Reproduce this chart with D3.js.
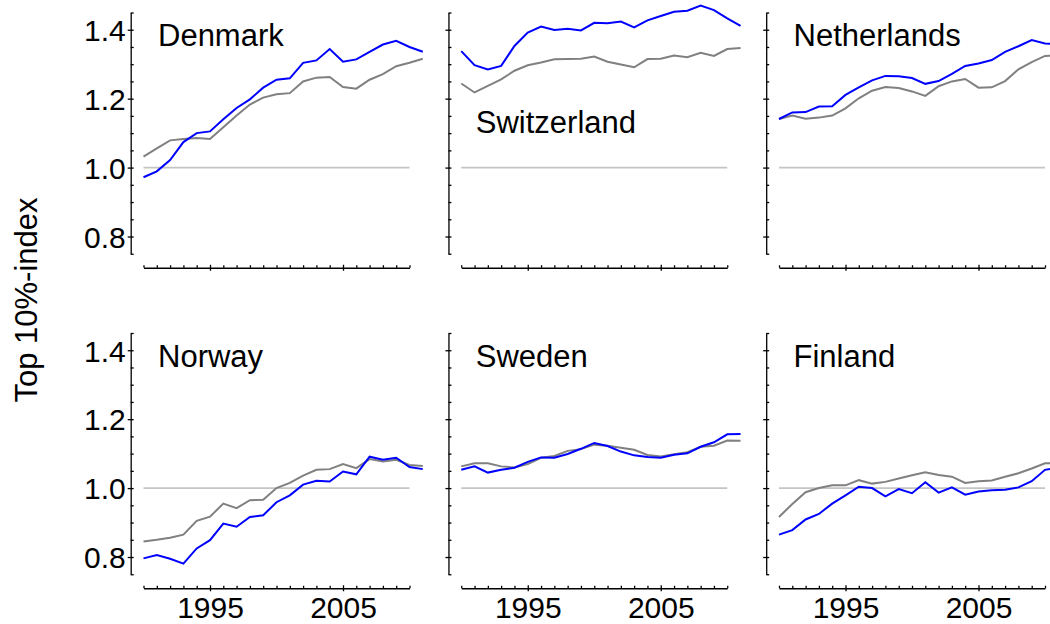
<!DOCTYPE html>
<html>
<head>
<meta charset="utf-8">
<script src="https://cdn.jsdelivr.net/npm/d3@7"></script>
<style>
  body { margin: 0; background: #fff; }
  text { font-family: "Liberation Sans", Arial, sans-serif; fill: #000; }
</style>
</head>
<body>
<div id="chart"></div>
<script>
// Données
const years = [1990, 1991, 1992, 1993, 1994, 1995, 1996, 1997, 1998, 1999, 2000,
               2001, 2002, 2003, 2004, 2005, 2006, 2007, 2008, 2009, 2010, 2011];

const countries = ["Denmark", "Switzerland", "Netherlands", "Norway", "Sweden", "Finland"];

const blueDenmark = [0.972, 0.989, 1.022, 1.074, 1.100, 1.105, 1.140, 1.173, 1.198, 1.232, 1.255,
                     1.259, 1.304, 1.311, 1.344, 1.307, 1.314, 1.336, 1.357, 1.368, 1.350, 1.336];
const grayDenmark = [1.032, 1.056, 1.079, 1.083, 1.086, 1.083, 1.117, 1.151, 1.183, 1.203, 1.213,
                     1.216, 1.250, 1.261, 1.263, 1.234, 1.229, 1.255, 1.271, 1.294, 1.304, 1.316];

const blueSwitzerland = [1.338, 1.297, 1.285, 1.295, 1.353, 1.392, 1.409, 1.399, 1.403, 1.398, 1.420,
                         1.419, 1.424, 1.407, 1.427, 1.440, 1.452, 1.455, 1.470, 1.457, 1.433, 1.411];
const graySwitzerland = [1.244, 1.218, 1.237, 1.256, 1.281, 1.297, 1.305, 1.314, 1.315, 1.316, 1.322,
                         1.307, 1.299, 1.291, 1.315, 1.316, 1.325, 1.320, 1.333, 1.324, 1.344, 1.347];

const blueNetherlands = [1.141, 1.160, 1.161, 1.177, 1.178, 1.211, 1.233, 1.253, 1.266, 1.265, 1.260,
                         1.243, 1.251, 1.272, 1.295, 1.302, 1.312, 1.336, 1.352, 1.370, 1.360, 1.358];
const grayNetherlands = [1.141, 1.151, 1.142, 1.145, 1.151, 1.172, 1.201, 1.223, 1.234, 1.231, 1.221,
                         1.208, 1.236, 1.250, 1.257, 1.232, 1.233, 1.251, 1.285, 1.306, 1.324, 1.325];

const blueNorway = [0.796, 0.806, 0.795, 0.781, 0.825, 0.849, 0.897, 0.888, 0.916, 0.921, 0.959,
                    0.979, 1.010, 1.021, 1.019, 1.048, 1.040, 1.091, 1.082, 1.088, 1.061, 1.055];
const grayNorway = [0.845, 0.850, 0.856, 0.865, 0.905, 0.917, 0.955, 0.942, 0.965, 0.966, 1.000,
                    1.015, 1.036, 1.053, 1.055, 1.070, 1.058, 1.084, 1.077, 1.082, 1.067, 1.064];

const blueSweden = [1.053, 1.063, 1.045, 1.053, 1.059, 1.076, 1.089, 1.088, 1.099, 1.114, 1.131,
                    1.122, 1.106, 1.095, 1.090, 1.088, 1.097, 1.101, 1.120, 1.133, 1.156, 1.157];
const graySweden = [1.063, 1.072, 1.072, 1.063, 1.060, 1.070, 1.088, 1.093, 1.108, 1.113, 1.126,
                    1.123, 1.117, 1.111, 1.096, 1.092, 1.098, 1.104, 1.120, 1.123, 1.138, 1.137];

const blueFinland = [0.865, 0.878, 0.909, 0.925, 0.955, 0.979, 1.004, 1.000, 0.976, 0.997, 0.985,
                     1.017, 0.987, 1.002, 0.981, 0.990, 0.994, 0.995, 1.002, 1.020, 1.053, 1.060];
const grayFinland = [0.916, 0.954, 0.988, 1.000, 1.008, 1.008, 1.023, 1.013, 1.018, 1.028, 1.037,
                     1.046, 1.038, 1.033, 1.015, 1.020, 1.022, 1.033, 1.043, 1.057, 1.072, 1.072];

const blueSeries = [blueDenmark, blueSwitzerland, blueNetherlands, blueNorway, blueSweden, blueFinland];
const graySeries = [grayDenmark, graySwitzerland, grayNetherlands, grayNorway, graySweden, grayFinland];

// Ligne de base du nom de pays (Switzerland est placé plus bas)
const labelValues = [1.352, 1.101, 1.352, 1.352, 1.352, 1.352];

const yMajor = [0.8, 1.0, 1.2, 1.4];
const yMinor = [0.75, 0.85, 0.9, 0.95, 1.05, 1.1, 1.15, 1.25, 1.3, 1.35, 1.45];
const xMajor = [1995, 2005];
const xMinor = [1990, 1991, 1992, 1993, 1994, 1996, 1997, 1998, 1999, 2000,
                2001, 2002, 2003, 2004, 2006, 2007, 2008, 2009, 2010];

// Configuration
const W = 1050, H = 624;
const panelW = 266, panelH = 241.25;
const left0 = 143.5, colStep = 317.75;
const top0 = 12.5, rowStep = 320.5;
const axisGap = 12.8;

const svg = d3.select("#chart").append("svg")
    .attr("width", W)
    .attr("height", H);

const x = d3.scaleLinear().domain([1990, 2010]).range([0, panelW]);
const y = d3.scaleLinear().domain([0.75, 1.45]).range([panelH, 0]);

const line = d3.line()
    .x((d, i) => x(years[i]))
    .y(d => y(d));

// Titre de l'axe Y
svg.append("text")
    .attr("transform", "translate(37, 300) rotate(-90)")
    .style("text-anchor", "middle")
    .style("font-size", "31px")
    .text("Top 10%-index");

countries.forEach((country, k) => {
    const col = k % 3, row = Math.floor(k / 3);
    const g = svg.append("g")
        .attr("transform", `translate(${left0 + col * colStep},${top0 + row * rowStep})`);

    // Axe Y : ticks majeurs croisés, mineurs vers l'intérieur
    const yAx = g.append("g").attr("transform", `translate(${-axisGap},0)`);
    yAx.call(d3.axisRight(y).tickValues(yMinor).tickSize(3).tickSizeOuter(0).tickFormat(""));
    const yMaj = yAx.append("g").call(d3.axisLeft(y).tickValues(yMajor).tickSize(3)
        .tickFormat(col === 0 ? d3.format(".1f") : ""));
    yMaj.select(".domain").remove();
    yMaj.selectAll(".tick line").attr("x1", 3);
    yMaj.selectAll(".tick text")
        .attr("x", -5)
        .attr("dy", "0.36em")
        .style("font-size", "30px")
        .style("font-family", "'Liberation Sans', Arial, sans-serif");

    // Axe X
    const xAx = g.append("g").attr("transform", `translate(0,${panelH + 14})`);
    xAx.call(d3.axisTop(x).tickValues(xMinor).tickSize(2.5).tickSizeOuter(0).tickFormat(""));
    const xMaj = xAx.append("g").call(d3.axisBottom(x).tickValues(xMajor).tickSize(3)
        .tickFormat(row === 1 ? d3.format("d") : ""));
    xMaj.select(".domain").remove();
    xMaj.selectAll(".tick line").attr("y1", -3);
    xMaj.selectAll(".tick text")
        .attr("y", 8)
        .attr("dy", "0.71em")
        .style("font-size", "30px")
        .style("font-family", "'Liberation Sans', Arial, sans-serif");

    svg.selectAll(".domain, .tick line").attr("stroke", "#000").attr("stroke-width", 1.3);

    // Ligne de référence à 1.0
    g.append("line")
        .attr("x1", x(1990)).attr("x2", x(2010))
        .attr("y1", y(1.0)).attr("y2", y(1.0))
        .attr("stroke", "#c4c4c4")
        .attr("stroke-width", 1.8);

    g.append("path")
        .datum(graySeries[k])
        .attr("fill", "none")
        .attr("stroke", "#808080")
        .attr("stroke-width", 2)
        .attr("d", line);

    g.append("path")
        .datum(blueSeries[k])
        .attr("fill", "none")
        .attr("stroke", "#0000ff")
        .attr("stroke-width", 2)
        .attr("d", line);

    g.append("text")
        .attr("x", 14.5)
        .attr("y", y(labelValues[k]))
        .style("font-size", "31px")
        .text(country);
});
</script>
</body>
</html>
